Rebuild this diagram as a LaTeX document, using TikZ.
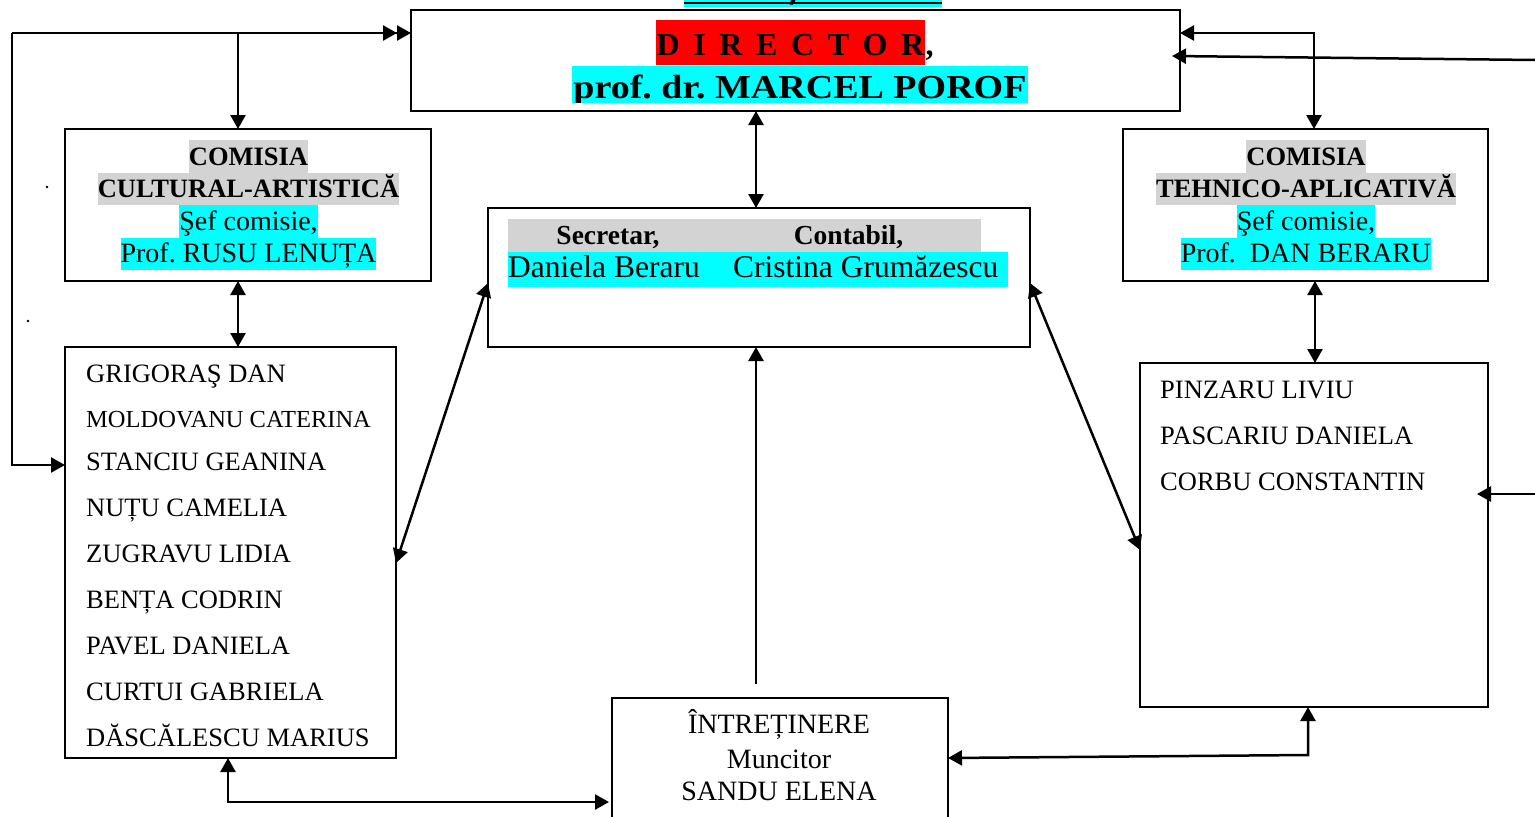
\documentclass[tikz,border=0pt]{standalone}
\usepackage{fontspec}
\setmainfont{Liberation Serif}
\newfontfamily\tms{Liberation Serif}
\newfontfamily\widefont[FakeStretch=1.135]{Liberation Serif}
\usetikzlibrary{arrows.meta,calc}
\definecolor{hlcyan}{RGB}{0,255,255}
\definecolor{hlgray}{RGB}{211,211,211}
\definecolor{hlred}{RGB}{255,0,0}
\newcommand\setfs[1]{\fontsize{#1}{#1}\selectfont}
\newcommand\letgap{\hspace{13.6pt}}
\begin{document}
\frenchspacing
\begin{tikzpicture}[x=1pt,y=-1pt,
  box/.style={draw,line width=2pt,inner sep=0pt,outer sep=0pt},
  ln/.style={line width=2.5pt},
  ar/.style={line width=2.5pt,-{Triangle[length=14pt,width=15pt]}},
  dar/.style={line width=2.5pt,{Triangle[length=14pt,width=15pt]}-{Triangle[length=14pt,width=15pt]}},
  hl/.style={anchor=base,inner xsep=0pt,inner ysep=0pt,text height=25pt,text depth=7.5pt},
  cbold/.style={hl,fill=hlgray,font=\bfseries\setfs{26.5}},
  creg/.style={hl,fill=hlcyan,font=\setfs{28}},
  lname/.style={anchor=base west,inner sep=0pt,font=\tms\setfs{26.5}},
  itxt/.style={anchor=base,inner sep=0pt,font=\setfs{28}}]
\useasboundingbox (0,0) rectangle (1535,817);
\fill[white] (0,0) rectangle (1535,817);

% cut-off text at the top
\fill[hlcyan] (684,0) rectangle (942,6.5);
\draw[line width=1.6pt] (684,2.8) -- (942,2.8);
\fill (791,0) -- (795.5,0) -- (793,4.5) -- (789.5,4.5) -- cycle;

% boxes
\node[box,minimum width=769pt,minimum height=101pt] (dir) at (795.5,60.5) {};
\node[box,minimum width=366pt,minimum height=152pt] (cca) at (248,205) {};
\node[box,minimum width=365pt,minimum height=152pt] (cta) at (1305.5,205) {};
\node[box,minimum width=542pt,minimum height=139pt] (sec) at (759,277.5) {};
\node[box,minimum width=331pt,minimum height=411pt] (lst1) at (230.5,552.5) {};
\node[box,minimum width=348pt,minimum height=344pt] (lst2) at (1314,535) {};
\node[box,minimum width=336pt,minimum height=132pt] (intr) at (780,764) {};

% director texts
\node[anchor=base,fill=hlred,inner xsep=1pt,inner ysep=0pt,text height=35pt,text depth=10pt,font=\bfseries\setfs{32}] (dirt) at (790.5,55) {D\letgap I\letgap R\letgap E\letgap C\letgap T\letgap O\letgap R};
\node[anchor=base west,inner sep=0pt,font=\bfseries\setfs{32}] (dirc) at (dirt.base east) {,};
\begin{scope}
\clip (411,10) rectangle (1180,102);
\node[anchor=base,fill=hlcyan,inner xsep=1pt,inner ysep=0pt,text height=33pt,text depth=8pt,font=\widefont\bfseries\setfs{33.5}] (prof) at (800,98.5) {prof. dr. MARCEL POROF};
\end{scope}

% left commission
\node[cbold] (c1a) at (248.5,165) {COMISIA};
\node[cbold] (c1b) at (248.5,197.5) {CULTURAL-ARTISTICĂ};
\node[creg] (c1c) at (248.5,230) {Şef comisie,};
\node[creg] (c1d) at (248.5,262.5) {Prof. RUSU LENUȚA};

% right commission
\node[cbold] (c2a) at (1306,165) {COMISIA};
\node[cbold] (c2b) at (1306,197.5) {TEHNICO-APLICATIVĂ};
\node[creg] (c2c) at (1306,230) {Şef comisie,};
\node[creg] (c2d) at (1306,262.5) {Prof.\ \ DAN BERARU};

% secretary box
\node[fill=hlgray,inner sep=0pt,minimum width=473pt,minimum height=33pt] (secbg) at (744.5,235.5) {};
\node[fill=hlcyan,inner sep=0pt,minimum width=500pt,minimum height=35pt] (cntbg) at (758,269.5) {};
\node[anchor=base,inner sep=0pt,font=\bfseries\setfs{27.5}] (s1) at (608,244) {Secretar,};
\node[anchor=base,inner sep=0pt,font=\bfseries\setfs{27.5}] (s2) at (848.5,244) {Contabil,};
\node[anchor=base west,inner sep=0pt,font=\setfs{31.5}] (s3) at (508,277) {Daniela Beraru};
\node[anchor=base west,inner sep=0pt,font=\setfs{31.5}] (s4) at (733,277) {Cristina Grumăzescu};

% left list
\node[lname] (l1) at (86,382.5) {GRIGORAŞ DAN};
\node[lname,font=\tms\setfs{24.5}] (l2) at (86,427) {MOLDOVANU CATERINA};
\node[lname] (l3) at (86,470.5) {STANCIU GEANINA};
\node[lname] (l4) at (86,516.5) {NUȚU CAMELIA};
\node[lname] (l5) at (86,562) {ZUGRAVU LIDIA};
\node[lname] (l6) at (86,608) {BENȚA CODRIN};
\node[lname] (l7) at (86,654) {PAVEL DANIELA};
\node[lname] (l8) at (86,700) {CURTUI GABRIELA};
\node[lname] (l9) at (86,746) {DĂSCĂLESCU MARIUS};

% right list
\node[lname] (r1) at (1160,398) {PINZARU LIVIU};
\node[lname] (r2) at (1160,444) {PASCARIU DANIELA};
\node[lname] (r3) at (1160,490) {CORBU CONSTANTIN};

% maintenance
\node[itxt] (i1) at (779,733) {ÎNTREȚINERE};
\node[itxt] (i2) at (779,768) {Muncitor};
\node[itxt] (i3) at (779,800) {SANDU ELENA};

% stray dots
\fill (47,187) circle (1.3);
\fill (28,321) circle (1.3);

% connectors
\coordinate (L0) at (12,33);
\coordinate (L1) at (238,33);
\coordinate (L2) at (12,465);
\draw[ar] (L0) -- (L0 -| dir.west);
\draw[ar] (L1) -- ($(L1 -| dir.west)+(-14,0)$);
\draw[ar] (L1) -- (L1 |- cca.north);
\draw[ar] (L0) -- (L2) -- (L2 -| lst1.west);

\coordinate (C0) at (238,0);
\draw[dar] (cca.south -| C0) -- (lst1.north -| C0);

\coordinate (C1) at (756,0);
\draw[dar] (dir.south -| C1) -- (sec.north -| C1);

\draw[dar] ($(sec.west)+(0,5.5)$) -- ($(lst1.east)+(0,10.5)$);
\draw[dar] ($(sec.east)+(0,5.5)$) -- ($(lst2.west)+(0,15)$);

\coordinate (C2) at (756,684);
\draw[ar] (C2) -- (sec.south -| C2);

\coordinate (R1) at (1314,33);
\draw[dar] (R1 -| dir.east) -- (R1) -- (R1 |- cta.north);
\coordinate (R2) at (1535,60);
\coordinate (R3) at (1172,56);
\draw[ar] (R2) -- (R3);

\coordinate (C3) at (1315,0);
\draw[dar] (cta.south -| C3) -- (lst2.north -| C3);

\coordinate (R4) at (1535,494);
\draw[ar] (R4) -- ($(R4 -| lst2.east)+(-11,0)$);

\coordinate (B0) at (948,758);
\coordinate (B1) at (1308,755);
\draw[dar] (B0) -- (B1) -- (B1 |- lst2.south);

\coordinate (B2) at (228,802);
\draw[dar] (B2 |- lst1.south) -- (B2) -- ($(B2 -| intr.west)+(-3,0)$);
\end{tikzpicture}
\end{document}
